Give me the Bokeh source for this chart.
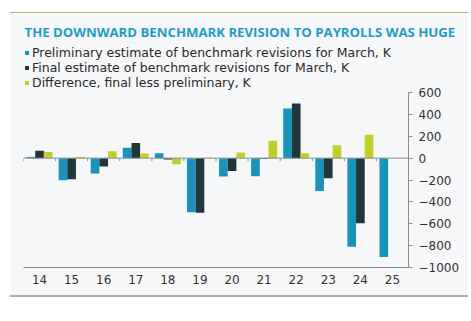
from bokeh.plotting import figure
from bokeh.models import (ColumnDataSource, FactorRange, FixedTicker, Span, Legend, LegendItem)
from bokeh.transform import dodge
from bokeh.embed import file_html
from bokeh.resources import INLINE

years = ["14", "15", "16", "17", "18", "19", "20", "21", "22", "23", "24", "25"]
preliminary = [10, -203, -140, 96, 45, -495, -168, -165, 455, -300, -810, -905]
final = [67, -192, -77, 138, -12, -500, -117, -7, 500, -183, -595, None]
difference = [57, 11, 63, 42, -57, -5, 51, 158, 45, 117, 215, None]
y_ticks = [-1000, -800, -600, -400, -200, 0, 200, 400, 600]

labels = ["Preliminary estimate of benchmark revisions for March, K",
          "Final estimate of benchmark revisions for March, K",
          "Difference, final less preliminary, K"]
colors = ["#1a93ba", "#22353b", "#c2ce2a"]

nan = float("nan")
src = ColumnDataSource(dict(
    x=years,
    prelim=[v if v is not None else nan for v in preliminary],
    final=[v if v is not None else nan for v in final],
    diff=[v if v is not None else nan for v in difference],
))

FONT = "DejaVu Sans"
TFONT = "Open Sans"

p = figure(width=458, height=285, x_range=FactorRange(*years, range_padding=0),
           y_range=(-1000, 1030), y_axis_location="right",
           output_backend="svg", toolbar_location=None,
           min_border_left=13, min_border_right=60, min_border_bottom=31, min_border_top=32,
           margin=(12, 3, 24, 10),
           background_fill_color="#f6f7f9", border_fill_color="#f6f7f9",
           outline_line_color=None,
           styles={"border-top": "1.5px solid #bfae55", "border-bottom": "2px solid #a9b0b5"})

r1 = p.vbar(x=dodge("x", -0.27, range=p.x_range), top="prelim", width=0.27, source=src,
            color=colors[0], line_color=None)
r2 = p.vbar(x=dodge("x", 0.0, range=p.x_range), top="final", width=0.27, source=src,
            color=colors[1], line_color=None)
r3 = p.vbar(x=dodge("x", 0.27, range=p.x_range), top="diff", width=0.27, source=src,
            color=colors[2], line_color=None)

# zero line with small ticks at category boundaries
p.add_layout(Span(location=0, dimension="width", line_color="#8a8f93", line_width=1))
bounds = list(range(len(years) + 1))
p.segment(x0=bounds, x1=bounds, y0=[0] * len(bounds), y1=[-28] * len(bounds),
          line_color="#8a8f93", line_width=1)

p.xgrid.visible = False
p.ygrid.visible = False

p.yaxis.ticker = FixedTicker(ticks=y_ticks)
p.yaxis.bounds = (-1000, 600)
p.yaxis.major_tick_out = 4
p.yaxis.major_tick_in = 0
p.yaxis.minor_tick_out = 0
p.yaxis.minor_tick_in = 0
p.yaxis.axis_line_color = "#8a8f93"
p.yaxis.major_tick_line_color = "#8a8f93"
p.yaxis.major_label_text_font = FONT
p.yaxis.major_label_text_font_size = "12px"
p.yaxis.major_label_text_color = "#333333"
p.yaxis.major_label_standoff = 6

p.xaxis.axis_line_color = "#8a8f93"
p.xaxis.major_tick_out = 0
p.xaxis.major_tick_in = 0
p.xaxis.major_label_text_font = FONT
p.xaxis.major_label_text_font_size = "12px"
p.xaxis.major_label_text_color = "#333333"
p.xaxis.major_label_standoff = 7

p.title.text = "THE DOWNWARD BENCHMARK REVISION TO PAYROLLS WAS HUGE"
p.title.align = "left"
p.title.offset = 1
p.title.text_font = TFONT
p.title.text_font_size = "13.2px"
p.title.text_font_style = "bold"
p.title.text_color = "#1e9cc7"

legend = Legend(items=[LegendItem(label=labels[0], renderers=[r1]),
                       LegendItem(label=labels[1], renderers=[r2]),
                       LegendItem(label=labels[2], renderers=[r3])],
                location=(1, 177), orientation="vertical",
                glyph_width=5, glyph_height=5, label_height=14, spacing=0,
                padding=0, margin=0, label_standoff=3,
                label_text_font=FONT, label_text_font_size="12.5px",
                label_text_color="#2a2a2a",
                border_line_color=None, background_fill_alpha=0)
p.add_layout(legend, "center")

open("out.html", "w").write(file_html(p, INLINE))
